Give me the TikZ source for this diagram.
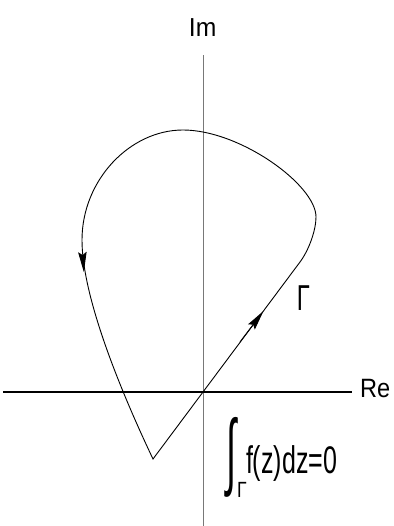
\documentclass[tikz,border=0pt]{standalone}
\usepackage{fontspec}
\setmainfont{Liberation Sans}
\usetikzlibrary{arrows.meta}
\definecolor{axisgray}{RGB}{120,120,120}
\begin{document}
\begin{tikzpicture}[x=1pt,y=-1pt,
  curve/.style={line width=0.9pt,black},
  tip/.style={-{Stealth[length=20pt,width=8.5pt,inset=3pt]},line width=0.9pt},
  lbl/.style={inner sep=0pt,outer sep=0pt}]
\useasboundingbox (0,0) rectangle (393,526);
% axes
\coordinate (ytop) at (203,55);
\coordinate (ybot) at (203,526);
\coordinate (xl) at (3,392);
\coordinate (xr) at (352,392);
\draw[axisgray,line width=1pt] (ybot) -- (ytop);
\draw[black,line width=1.2pt] (xl) -- (xr);
% contour
\coordinate (O) at (203,392);
\coordinate (P1) at (300,262);
\coordinate (R) at (316,217);
\coordinate (T) at (183,130);
\coordinate (L) at (82,240);
\coordinate (V) at (153,459);
\draw[curve,line join=miter] (O) -- (P1)
  .. controls (309,250) and (316,230) .. (R)
  .. controls (316,185) and (240,130) .. (T)
  .. controls (130,130) and (82,180) .. (L)
  .. controls (82,300) and (125,400) .. (V) -- cycle;
% arrowheads
\coordinate (a1s) at (240,342);
\coordinate (a1e) at (263.5,311);
\draw[tip] (a1s) -- (a1e);
\coordinate (a2s) at (82.6,255);
\coordinate (a2e) at (83.8,272);
\draw[tip] (a2s) -- (a2e);
% labels
\node[lbl,anchor=base] (im) at (202.6,36.7) {\fontsize{26}{26}\selectfont\scalebox{0.95}[1]{Im}};
\node[lbl,anchor=base west] (re) at (360,397) {\fontsize{26.5}{27}\selectfont\scalebox{0.89}[1]{Re}};
\node[lbl,anchor=base] (gam) at (303.5,310) {\fontsize{36}{36}\selectfont\scalebox{0.66}[1]{Γ}};
\node[lbl,anchor=base west] (fz) at (246,473.5) {\fontsize{38.5}{39}\selectfont\scalebox{0.65}[1]{f(z)dz=0}};
\node[lbl,anchor=center] (int) at (231,457.5) {\resizebox*{10pt}{80pt}{∫}};
\node[lbl,anchor=base] (sub) at (242,497) {\fontsize{22}{22}\selectfont\scalebox{0.8}[1]{Γ}};
\end{tikzpicture}
\end{document}
